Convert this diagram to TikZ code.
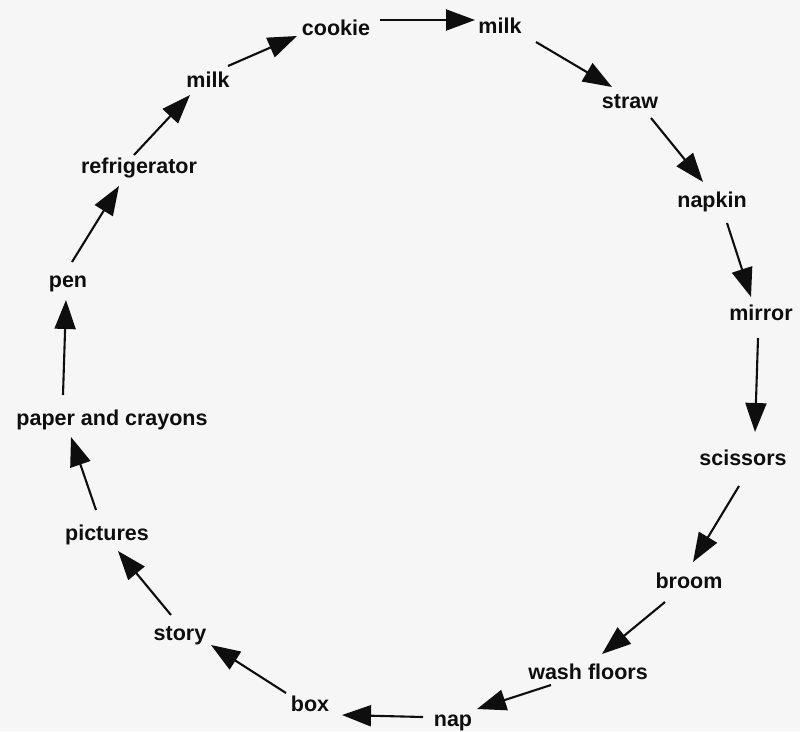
\documentclass[tikz,border=0pt]{standalone}
\usepackage{fontspec}
\setmainfont{Liberation Sans}
\usetikzlibrary{arrows.meta,calc}
\definecolor{paperbg}{RGB}{246,246,246}
\definecolor{ink}{RGB}{14,14,14}
\begin{document}
\begin{tikzpicture}[x=1pt,y=-1pt,
  word/.style={anchor=base,inner sep=0pt,text=ink,font=\fontsize{21.5}{25}\selectfont\bfseries},
  arr/.style={draw=ink,line width=2.1pt,-{Triangle[length=29pt,width=21pt]}}]
\fill[paperbg] (0,0) rectangle (800,731);
\useasboundingbox (0,0) rectangle (800,731);
% words
\node[word] (cookie)   at (336,35)  {cookie};
\node[word] (milkB)    at (500,33)  {milk};
\node[word] (straw)    at (630,108) {straw};
\node[word] (napkin)   at (712,207) {napkin};
\node[word] (mirror)   at (761,320) {mirror};
\node[word] (scissors) at (743,465) {scissors};
\node[word] (broom)    at (689,588) {broom};
\node[word] (wash)     at (588,679) {wash floors};
\node[word] (nap)      at (453,726) {nap};
\node[word] (box)      at (310,711) {box};
\node[word] (story)    at (180,640) {story};
\node[word] (pictures) at (107,540) {pictures};
\node[word] (paper)    at (112,425) {paper and crayons};
\node[word] (pen)      at (68,287)  {pen};
\node[word] (fridge)   at (139,173) {refrigerator};
\node[word] (milkA)    at (208,87)  {milk};
% connectors
\draw[arr] ($(cookie.base)+(44,-15)$)   -- ($(milkB.base)+(-25,-13)$);
\draw[arr] ($(milkB.base)+(36,9)$)      -- ($(straw.base)+(-18,-21)$);
\draw[arr] ($(straw.base)+(21,10)$)     -- ($(napkin.base)+(-9,-25)$);
\draw[arr] ($(napkin.base)+(15,16)$)    -- ($(mirror.base)+(-10,-23)$);
\draw[arr] ($(mirror.base)+(-3,18)$)    -- ($(scissors.base)+(12,-33)$);
\draw[arr] ($(scissors.base)+(-4,21)$)  -- ($(broom.base)+(4,-26)$);
\draw[arr] ($(broom.base)+(-24,14)$)    -- ($(wash.base)+(14,-25)$);
\draw[arr] ($(wash.base)+(-37,6)$)      -- ($(nap.base)+(24,-17)$);
\draw[arr] ($(nap.base)+(-30,-9)$)      -- ($(box.base)+(32,4)$);
\draw[arr] ($(box.base)+(-24,-18)$)     -- ($(story.base)+(31,5)$);
\draw[arr] ($(story.base)+(-9,-25)$)    -- ($(pictures.base)+(11,11)$);
\draw[arr] ($(pictures.base)+(-11,-30)$) -- ($(paper.base)+(-41,12)$);
\draw[arr] ($(paper.base)+(-49,-30)$)   -- ($(pen.base)+(-2,13)$);
\draw[arr] ($(pen.base)+(4,-25)$)       -- ($(fridge.base)+(-20,13)$);
\draw[arr] ($(fridge.base)+(-5,-18)$)   -- ($(milkA.base)+(-18,8)$);
\draw[arr] ($(milkA.base)+(20,-21)$)    -- ($(cookie.base)+(-39,1)$);
\end{tikzpicture}
\end{document}
